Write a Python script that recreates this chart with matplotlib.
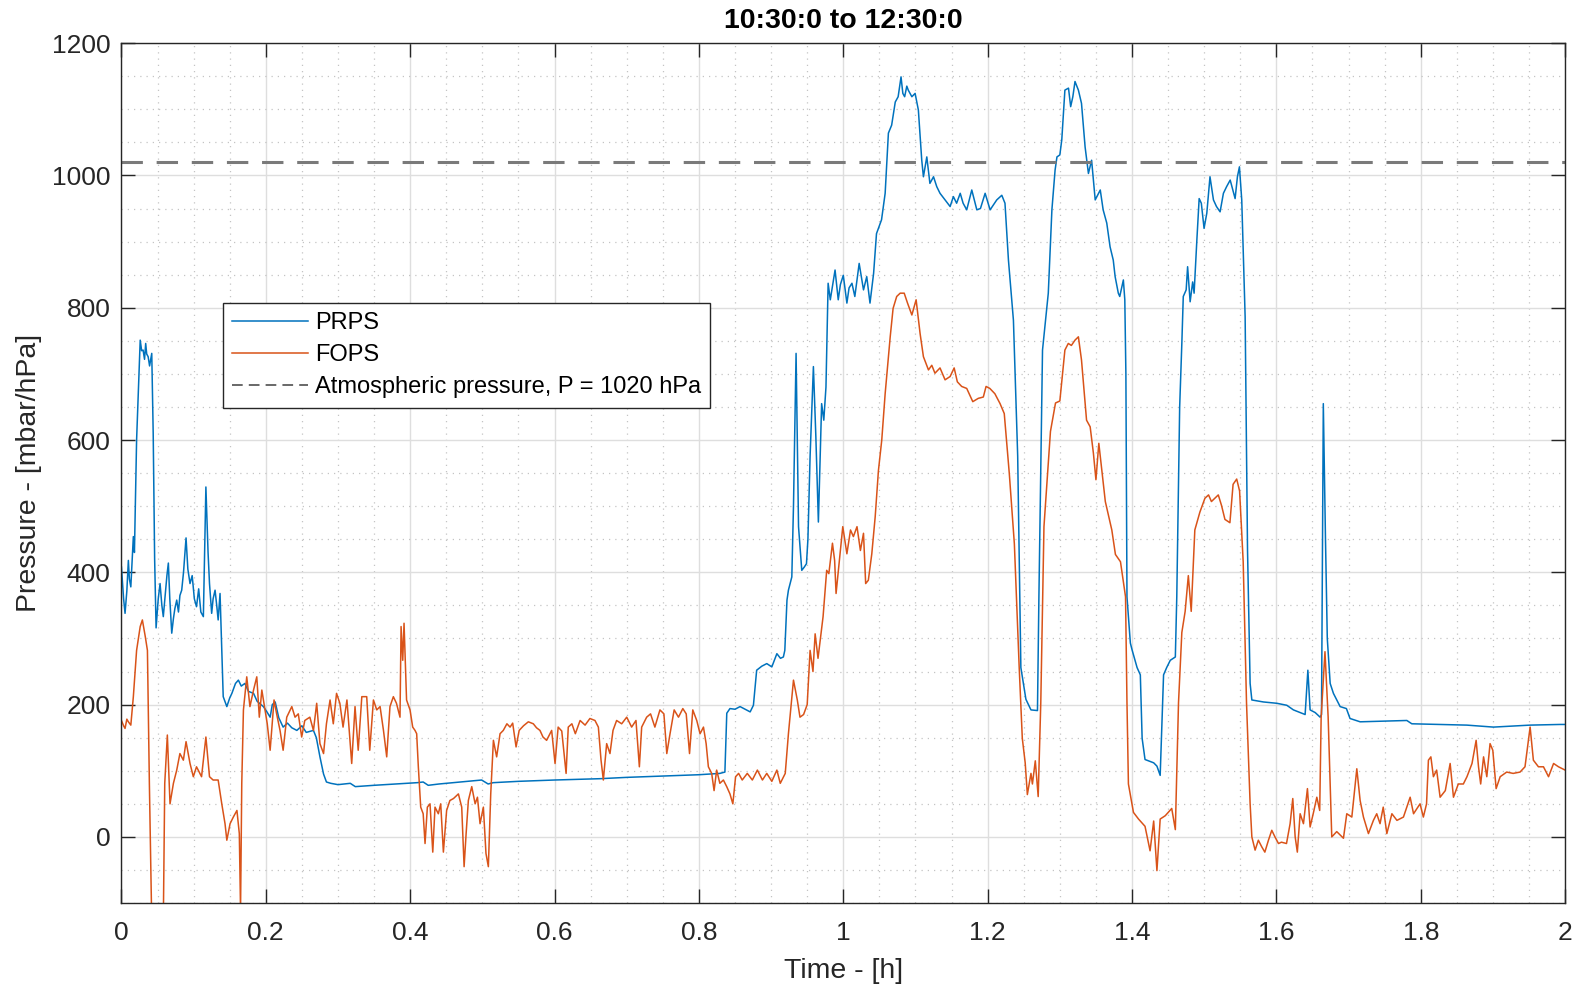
import numpy as np
import matplotlib.pyplot as plt
from matplotlib.lines import Line2D
from matplotlib.ticker import MultipleLocator, FuncFormatter

plt.rcParams['font.family'] = ['Liberation Sans', 'DejaVu Sans']

# time [h] and pressure [mbar]
prps_t = [0.000, 0.003, 0.005, 0.0075, 0.0096, 0.011, 0.013, 0.015, 0.0165, 0.018, 0.021, 0.026, 0.028, 0.030,
          0.032, 0.0336, 0.035, 0.037, 0.039, 0.042, 0.044, 0.046, 0.048, 0.051, 0.0535, 0.056, 0.058, 0.061,
          0.063, 0.065, 0.067, 0.0697, 0.072, 0.074, 0.0766, 0.079, 0.081, 0.0835, 0.086, 0.0895, 0.092, 0.095,
          0.098, 0.101, 0.104, 0.107, 0.110, 0.1135, 0.117, 0.120, 0.122, 0.125, 0.127, 0.1297, 0.132, 0.134,
          0.1366, 0.139, 0.141, 0.146, 0.150, 0.153, 0.158, 0.162, 0.166, 0.171, 0.176, 0.183, 0.188, 0.1966,
          0.201, 0.206, 0.209, 0.213, 0.218, 0.224, 0.230, 0.236, 0.243, 0.250, 0.256, 0.266, 0.270, 0.275,
          0.280, 0.284, 0.290, 0.300, 0.317, 0.324, 0.350, 0.380, 0.410, 0.418, 0.425, 0.440, 0.470, 0.499,
          0.508, 0.515, 0.550, 0.600, 0.663, 0.700, 0.750, 0.800, 0.829, 0.836, 0.8386, 0.843, 0.850, 0.857,
          0.864, 0.871, 0.8755, 0.880, 0.887, 0.894, 0.901, 0.908, 0.913, 0.917, 0.919, 0.922, 0.924, 0.9287,
          0.931, 0.9346, 0.938, 0.9425, 0.946, 0.949, 0.951, 0.954, 0.9586, 0.962, 0.9655, 0.970, 0.973, 0.976,
          0.979, 0.982, 0.9886, 0.993, 0.996, 1.000, 1.005, 1.008, 1.012, 1.016, 1.022, 1.028, 1.0325, 1.037,
          1.042, 1.046, 1.053, 1.058, 1.0625, 1.067, 1.072, 1.076, 1.080, 1.0825, 1.085, 1.088, 1.090, 1.095,
          1.0995, 1.104, 1.1087, 1.111, 1.1157, 1.120, 1.125, 1.1295, 1.134, 1.141, 1.148, 1.1525, 1.157, 1.162,
          1.166, 1.171, 1.178, 1.185, 1.190, 1.1965, 1.2034, 1.2126, 1.2196, 1.224, 1.2288, 1.2357, 1.2416,
          1.246, 1.253, 1.260, 1.269, 1.271, 1.276, 1.284, 1.289, 1.2934, 1.296, 1.300, 1.3027, 1.307, 1.312,
          1.315, 1.318, 1.321, 1.3257, 1.330, 1.335, 1.3396, 1.344, 1.349, 1.356, 1.360, 1.365, 1.3696, 1.374,
          1.3766, 1.381, 1.383, 1.388, 1.390, 1.3915, 1.393, 1.3977, 1.400, 1.407, 1.4115, 1.414, 1.418, 1.430,
          1.4345, 1.439, 1.4437, 1.448, 1.453, 1.460, 1.462, 1.466, 1.469, 1.471, 1.475, 1.477, 1.4805, 1.484,
          1.486, 1.4898, 1.493, 1.496, 1.4998, 1.5036, 1.508, 1.5128, 1.517, 1.522, 1.5266, 1.531, 1.536,
          1.5428, 1.546, 1.5488, 1.552, 1.5567, 1.560, 1.5636, 1.566, 1.582, 1.6006, 1.6144, 1.6236, 1.633,
          1.6398, 1.6436, 1.6467, 1.6537, 1.6606, 1.6625, 1.665, 1.668, 1.6705, 1.6745, 1.679, 1.6883, 1.697,
          1.702, 1.716, 1.7807, 1.7876, 1.8638, 1.9007, 1.9515, 1.993, 2.000]
prps_p = [408, 360, 338, 372, 418, 390, 378, 420, 454, 430, 600, 751, 735, 736,
          722, 746, 730, 726, 712, 731, 610, 420, 316, 360, 383, 350, 333, 370,
          395, 414, 360, 308, 330, 345, 358, 340, 365, 373, 400, 452, 405, 383,
          395, 360, 348, 375, 340, 333, 529, 430, 383, 338, 360, 373, 350, 328,
          368, 282, 212, 197, 210, 217, 232, 237, 228, 232, 220, 217, 205, 197,
          190, 181, 200, 204, 180, 166, 172, 165, 161, 168, 158, 161, 150, 121,
          95, 83, 81, 79, 81, 76, 78, 80, 82, 83, 78, 80, 83, 86,
          80, 82, 84, 86, 88, 90, 92, 94, 96, 98, 187, 194, 193, 197,
          193, 189, 199, 252, 258, 262, 257, 277, 270, 272, 282, 358, 373, 393,
          500, 731, 469, 403, 408, 413, 450, 575, 711, 605, 476, 655, 630, 680,
          837, 812, 857, 812, 835, 849, 807, 830, 837, 817, 867, 827, 847, 807,
          852, 912, 933, 973, 1064, 1076, 1111, 1119, 1149, 1124, 1119, 1135, 1129, 1119,
          1124, 1099, 1023, 998, 1028, 988, 998, 983, 973, 963, 953, 968, 958, 973,
          958, 948, 978, 948, 950, 973, 948, 963, 970, 958, 872, 781, 576,
          256, 208, 192, 191, 363, 736, 822, 948, 1008, 1028, 1031, 1054, 1129, 1132,
          1104, 1119, 1142, 1129, 1109, 1043, 1003, 1023, 963, 978, 948, 928, 892, 872,
          847, 822, 817, 842, 812, 700, 363, 293, 283, 256, 245, 149, 117, 112,
          107, 93, 245, 256, 267, 272, 363, 650, 746, 817, 827, 862, 809, 839,
          822, 902, 965, 958, 920, 943, 998, 963, 953, 945, 973, 983, 993,
          965, 998, 1013, 963, 786, 434, 232, 207, 204, 202, 199, 192, 188,
          185, 252, 192, 188, 181, 185, 655, 450, 300, 232, 217, 197, 194,
          179, 174, 176, 171, 169, 166, 169, 170, 170]

fops_t = [0.000, 0.003, 0.005, 0.0075, 0.0096, 0.013, 0.0165, 0.021, 0.026, 0.029, 0.033, 0.036, 0.0387, 0.042,
          0.058, 0.060, 0.0636, 0.0673, 0.072, 0.0766, 0.081, 0.0858, 0.0895, 0.095, 0.0996, 0.104, 0.111, 0.117,
          0.122, 0.127, 0.134, 0.139, 0.1435, 0.146, 0.1505, 0.155, 0.160, 0.1633, 0.165, 0.1667, 0.169, 0.1736,
          0.178, 0.183, 0.1875, 0.191, 0.1945, 0.199, 0.202, 0.206, 0.2114, 0.215, 0.2197, 0.224, 0.229, 0.236,
          0.2405, 0.245, 0.2497, 0.254, 0.261, 0.266, 0.2705, 0.275, 0.280, 0.284, 0.289, 0.2935, 0.298, 0.3026,
          0.307, 0.3124, 0.319, 0.3236, 0.328, 0.333, 0.3398, 0.344, 0.3491, 0.3537, 0.3583, 0.363, 0.3675, 0.372,
          0.3767, 0.381, 0.3859, 0.3874, 0.3897, 0.3915, 0.395, 0.3998, 0.4035, 0.4067, 0.409, 0.4113, 0.4146,
          0.418, 0.4206, 0.4238, 0.4275, 0.4313, 0.4344, 0.439, 0.4423, 0.446, 0.4505, 0.455, 0.460, 0.4668,
          0.4714, 0.4747, 0.4775, 0.4806, 0.4853, 0.490, 0.4932, 0.4968, 0.5014, 0.505, 0.5083, 0.5116, 0.5153,
          0.5198, 0.5245, 0.529, 0.534, 0.5384, 0.542, 0.5467, 0.551, 0.557, 0.5637, 0.5706, 0.575, 0.5798, 0.584,
          0.589, 0.596, 0.6007, 0.605, 0.610, 0.616, 0.619, 0.624, 0.6288, 0.6354, 0.6423, 0.649, 0.656, 0.6607,
          0.6644, 0.6676, 0.6722, 0.6768, 0.681, 0.686, 0.693, 0.700, 0.7068, 0.7128, 0.7175, 0.7207, 0.7276,
          0.733, 0.739, 0.746, 0.7515, 0.7555, 0.760, 0.7657, 0.7717, 0.7777, 0.7824, 0.787, 0.7915, 0.797,
          0.8016, 0.8063, 0.810, 0.8131, 0.8177, 0.821, 0.8246, 0.829, 0.8339, 0.8385, 0.843, 0.847, 0.8508,
          0.855, 0.860, 0.867, 0.874, 0.881, 0.888, 0.894, 0.901, 0.908, 0.9127, 0.9196, 0.924, 0.931, 0.9363,
          0.940, 0.945, 0.950, 0.954, 0.958, 0.961, 0.965, 0.972, 0.977, 0.980, 0.985, 0.988, 0.990, 0.996,
          0.9993, 1.005, 1.010, 1.014, 1.019, 1.0237, 1.028, 1.031, 1.0347, 1.0395, 1.0442, 1.0487, 1.0533,
          1.058, 1.065, 1.069, 1.074, 1.0788, 1.0844, 1.089, 1.095, 1.1009, 1.1064, 1.111, 1.118, 1.1226, 1.127,
          1.134, 1.141, 1.148, 1.1536, 1.158, 1.164, 1.171, 1.1794, 1.187, 1.194, 1.1978, 1.203, 1.210, 1.2172,
          1.223, 1.230, 1.237, 1.2437, 1.248, 1.252, 1.255, 1.260, 1.262, 1.266, 1.270, 1.2736, 1.278, 1.287,
          1.294, 1.300, 1.307, 1.3117, 1.316, 1.321, 1.3257, 1.330, 1.337, 1.342, 1.3465, 1.350, 1.354, 1.363,
          1.372, 1.377, 1.384, 1.391, 1.393, 1.395, 1.402, 1.409, 1.418, 1.425, 1.430, 1.4345, 1.439, 1.446,
          1.455, 1.460, 1.4644, 1.469, 1.4736, 1.478, 1.482, 1.487, 1.494, 1.501, 1.506, 1.510, 1.5195, 1.524,
          1.5287, 1.5356, 1.540, 1.545, 1.549, 1.554, 1.5586, 1.5636, 1.566, 1.5705, 1.575, 1.5797, 1.584, 1.589,
          1.5936, 1.598, 1.6029, 1.607, 1.614, 1.619, 1.6227, 1.626, 1.629, 1.6329, 1.6375, 1.643, 1.6467, 1.651,
          1.656, 1.660, 1.662, 1.6673, 1.6717, 1.6767, 1.6836, 1.6929, 1.6975, 1.7045, 1.7114, 1.716, 1.7206,
          1.7275, 1.7344, 1.739, 1.7436, 1.748, 1.753, 1.760, 1.767, 1.776, 1.7853, 1.790, 1.799, 1.8036, 1.808,
          1.8106, 1.814, 1.8175, 1.822, 1.8268, 1.834, 1.8407, 1.8453, 1.852, 1.859, 1.864, 1.871, 1.8767, 1.880,
          1.883, 1.887, 1.8915, 1.896, 1.8998, 1.9044, 1.910, 1.919, 1.928, 1.9375, 1.9444, 1.9515, 1.956, 1.963,
          1.970, 1.977, 1.984, 1.9908, 2.000]
fops_p = [176, 168, 164, 178, 174, 169, 212, 282, 318, 328, 303, 282, 81, -130,
          -130, 81, 154, 50, 81, 101, 126, 116, 144, 111, 91, 106, 91, 151,
          91, 86, 86, 50, 20, -5, 20, 30, 40, 5, -110, 81, 192, 242,
          197, 222, 242, 181, 222, 192, 171, 131, 207, 186, 161, 131, 181, 197,
          181, 186, 151, 176, 181, 161, 202, 141, 126, 171, 207, 171, 217, 202,
          166, 207, 111, 197, 131, 212, 212, 131, 207, 192, 197, 161, 121, 197,
          212, 202, 181, 318, 267, 323, 207, 192, 166, 161, 156, 106, 45,
          35, -10, 45, 50, -23, 45, 35, 50, -23, 40, 55, 58, 65,
          45, -45, 5, 55, 76, 50, 60, 20, 45, -25, -45, 65, 146,
          121, 156, 161, 171, 166, 172, 136, 161, 168, 174, 171, 165, 161, 151,
          146, 161, 111, 166, 160, 96, 166, 171, 156, 176, 169, 179, 176, 166,
          116, 86, 141, 126, 161, 176, 171, 181, 166, 176, 106, 166, 181,
          186, 166, 192, 186, 126, 156, 192, 181, 194, 186, 126, 192, 176,
          156, 166, 141, 106, 96, 70, 101, 81, 86, 76, 65, 50, 91,
          96, 86, 96, 86, 101, 86, 96, 84, 101, 81, 96, 156, 237, 207,
          181, 185, 200, 282, 250, 307, 270, 333, 403, 398, 444, 418, 368, 433,
          469, 428, 464, 454, 469, 433, 459, 383, 388, 428, 484, 554, 600,
          670, 756, 799, 817, 822, 822, 807, 789, 812, 761, 726, 706, 713, 701,
          709, 691, 696, 709, 688, 681, 678, 658, 663, 665, 681, 678, 670, 655,
          640, 549, 443, 256, 149, 112, 64, 96, 80, 115, 61, 203, 469, 613,
          656, 659, 736, 746, 743, 751, 756, 721, 630, 620, 580, 540, 595, 507,
          464, 427, 416, 363, 203, 80, 37, 27, 16, -21, 24, -51, 27, 32,
          43, 11, 203, 309, 341, 395, 341, 464, 491, 512, 517, 507, 517, 501,
          480, 475, 533, 541, 523, 416, 203, 50, 0, -20, -5, -15, -23, -5,
          10, 0, -10, -8, -10, 20, 58, 0, -23, 35, 20, 73, 15, 35,
          60, 40, 181, 280, 181, 0, 8, -2, 35, 30, 103, 55, 30,
          5, 25, 35, 20, 45, 5, 35, 25, 30, 60, 35, 50, 30, 50,
          116, 121, 91, 101, 60, 70, 111, 60, 80, 80, 91, 111, 146, 106,
          80, 121, 91, 141, 131, 73, 91, 98, 96, 98, 106, 166, 116, 106,
          106, 91, 111, 106, 101]

p_atm = 1020
title = '10:30:0 to 12:30:0'

fig = plt.figure(figsize=(15.73, 9.85), dpi=100)
ax = fig.add_axes([0.0772, 0.0832, 0.9178, 0.873])

l1, = ax.plot(prps_t, prps_p, color='#0072BD', lw=1.1, label='PRPS')
l2, = ax.plot(fops_t, fops_p, color='#D95319', lw=1.1, label='FOPS')
ax.axhline(p_atm, color='#7a7a7a', lw=2.2, ls=(0, (7, 4.5)))

ax.set_xlim(0, 2)
ax.set_ylim(-100, 1200)
ax.xaxis.set_major_locator(MultipleLocator(0.2))
ax.xaxis.set_minor_locator(MultipleLocator(0.05))
ax.yaxis.set_major_locator(MultipleLocator(200))
ax.yaxis.set_minor_locator(MultipleLocator(50))
ax.set_yticks([0, 200, 400, 600, 800, 1000, 1200])
ax.xaxis.set_major_formatter(FuncFormatter(lambda v, pos: f'{v:g}'))

ax.grid(which='major', color='#dedede', lw=1.0, ls='-')
ax.grid(which='minor', color='#c4c4c4', lw=0.9, ls=(0, (1, 4)))
ax.set_axisbelow(True)

ax.tick_params(which='major', direction='in', length=10, width=1, color='#262626',
               top=True, right=True, labelsize=19, labelcolor='#262626', pad=8)
ax.tick_params(axis='x', which='major', pad=13)
ax.tick_params(which='minor', length=0, top=True, right=True)
for s in ax.spines.values():
    s.set_color('#262626')
    s.set_linewidth(1)

ax.set_xlabel('Time - [h]', fontsize=20.5, color='#262626', labelpad=9)
ax.set_ylabel('Pressure - [mbar/hPa]', fontsize=20.5, color='#262626', labelpad=7)
ax.set_title(title, fontsize=20.5, fontweight='bold', color='black', pad=11)

atm_proxy = Line2D([], [], color='#404040', lw=1.1, ls=(0, (7, 4)))
leg = ax.legend([l1, l2, atm_proxy],
                ['PRPS', 'FOPS', 'Atmospheric pressure, P = %d hPa' % p_atm],
                loc='upper left', bbox_to_anchor=(0.0702, 0.698), fontsize=17,
                handlelength=3.2, handletextpad=0.3, labelspacing=0.42,
                borderpad=0.4, borderaxespad=0, fancybox=False, framealpha=1)
leg.get_frame().set_edgecolor('#262626')
leg.get_frame().set_linewidth(1)

fig.savefig('out.png', dpi=100)
